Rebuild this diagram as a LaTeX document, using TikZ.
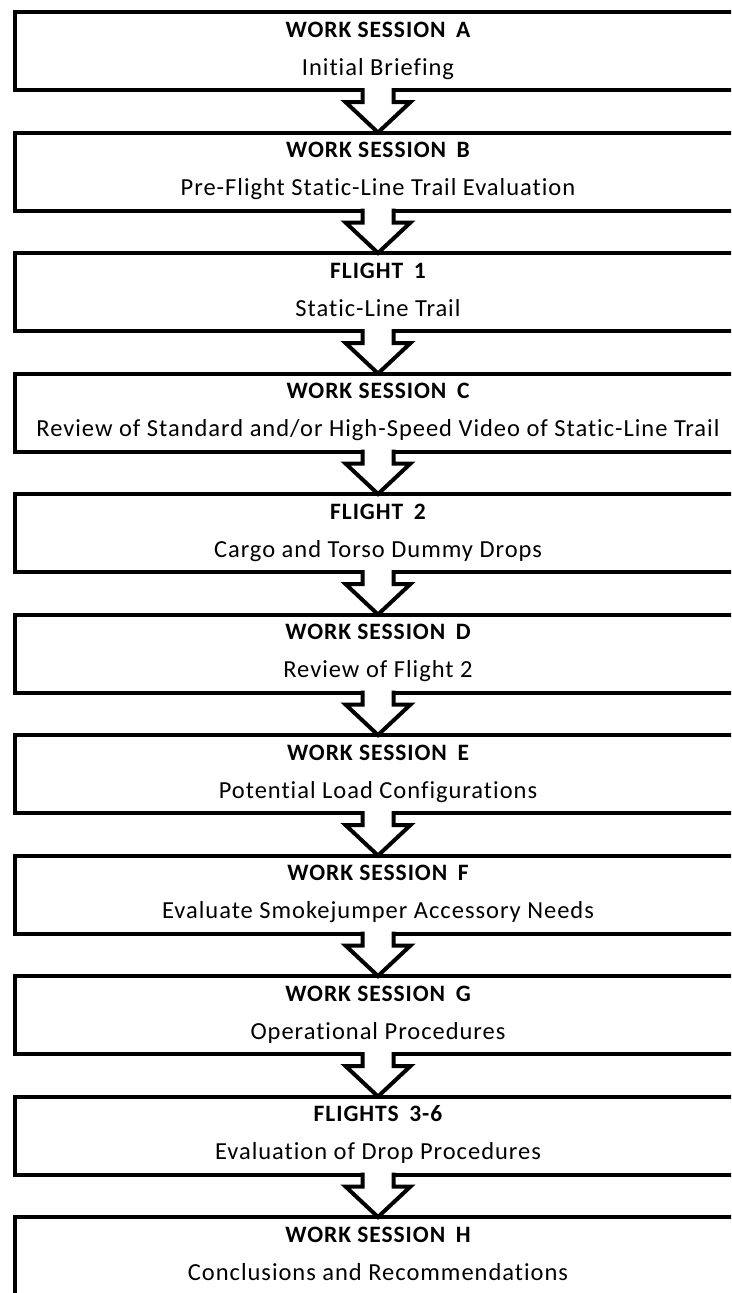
\documentclass[tikz,border=0pt]{standalone}
\usepackage{fontspec}
\setmainfont[Ligatures=NoCommon, LetterSpace=4]{Carlito}
\usetikzlibrary{calc}
% wider gap between the stage word and its letter/number
\newcommand\capgap{\hspace{0.45em}}
\begin{document}
\begin{tikzpicture}[x=1pt,y=-1pt,
  stage/.style={draw=black, line width=4pt, rectangle, minimum width=726pt,
    minimum height=78pt, inner sep=0pt, outer sep=0pt},
  headline/.style={anchor=base, inner sep=0pt,
    font=\fontsize{23.5}{27}\selectfont\bfseries},
  subline/.style={anchor=base, inner sep=0pt,
    font=\fontsize{24.5}{28}\selectfont},
  flowline/.style={draw=black, line width=4pt, line join=miter}]
\useasboundingbox (0,0) rectangle (731,1293);
\clip (0,0) rectangle (731,1293);
\fill[white] (0,0) rectangle (731,1293);

% the stages, top to bottom
\foreach \i/\ttl/\sub in {
  0/{WORK SESSION\capgap A}/{Initial Briefing},
  1/{WORK SESSION\capgap B}/{Pre-Flight Static-Line Trail Evaluation},
  2/{FLIGHT\capgap 1}/{Static-Line Trail},
  3/{WORK SESSION\capgap C}/{Review of Standard and/or High-Speed Video of Static-Line Trail},
  4/{FLIGHT\capgap 2}/{Cargo and Torso Dummy Drops},
  5/{WORK SESSION\capgap D}/{Review of Flight 2},
  6/{WORK SESSION\capgap E}/{Potential Load Configurations},
  7/{WORK SESSION\capgap F}/{Evaluate Smokejumper Accessory Needs},
  8/{WORK SESSION\capgap G}/{Operational Procedures},
  9/{FLIGHTS\capgap 3-6}/{Evaluation of Drop Procedures},
  10/{WORK SESSION\capgap H}/{Conclusions and Recommendations}} {
  \node[stage] (b\i) at (378,{51+120.5*\i}) {};
  \node[headline] (t\i) at ($(b\i.north)+(0,25)$) {\ttl};
  \node[subline] (s\i) at ($(b\i.north)+(0,63)$) {\sub};
}

% hollow block arrows joining each stage to the next
\foreach \i [evaluate=\i as \j using int(\i+1)] in {0,...,9} {
  \fill[white] ($(b\i.south)+(-15.5,-2.5)$) -- ($(b\i.south)+(-15.5,12)$)
    -- ($(b\i.south)+(-32.5,12)$) -- (b\j.north)
    -- ($(b\i.south)+(32.5,12)$) -- ($(b\i.south)+(15.5,12)$)
    -- ($(b\i.south)+(15.5,-2.5)$) -- cycle;
  \draw[flowline] ($(b\i.south)+(-15.5,-2)$) -- ($(b\i.south)+(-15.5,12)$)
    -- ($(b\i.south)+(-32.5,12)$) -- (b\j.north)
    -- ($(b\i.south)+(32.5,12)$) -- ($(b\i.south)+(15.5,12)$)
    -- ($(b\i.south)+(15.5,-2)$);
}
\end{tikzpicture}
\end{document}
